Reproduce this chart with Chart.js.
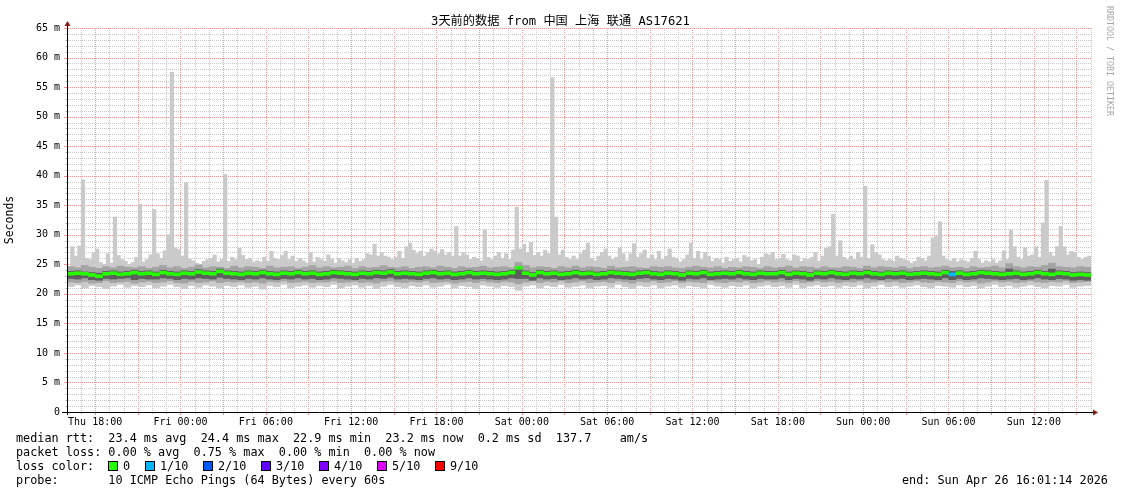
<!DOCTYPE html>
<html><head><meta charset="utf-8">
<script src="https://cdn.jsdelivr.net/npm/chart.js@4"></script>
<style>
html,body{margin:0;padding:0;background:#fff;}
#wrap{position:relative;width:1121px;height:494px;overflow:hidden;background:#fff;}
canvas{position:absolute;left:0;top:0;}
.t{position:absolute;font-family:'DejaVu Sans Mono',monospace;font-size:11.8px;white-space:pre;color:#000;line-height:14px;}
.box{position:absolute;width:8px;height:8px;border:1px solid #000;}
#title{position:absolute;left:0;top:14px;width:1121px;text-align:center;font-family:'DejaVu Sans Mono','Noto Sans CJK SC',monospace;font-size:12.2px;line-height:14px;color:#000;white-space:pre;}
#wm{position:absolute;left:1105px;top:6px;writing-mode:vertical-rl;font-family:'DejaVu Sans Mono',monospace;font-size:8.3px;color:#a8a8a8;white-space:pre;line-height:10px;}
</style></head><body>
<div id="wrap">
<canvas id="c" width="1121" height="494"></canvas>
<div id="title">3天前的数据 from 中国 上海 联通 AS17621</div>
<div id="wm">RRDTOOL / TOBI OETIKER</div>
<div class="t" style="left:16px;top:431px">median rtt:  23.4 ms avg  24.4 ms max  22.9 ms min  23.2 ms now  0.2 ms sd  137.7    am/s</div>
<div class="t" style="left:16px;top:445px">packet loss: 0.00 % avg  0.75 % max  0.00 % min  0.00 % now</div>
<div class="t" style="left:16px;top:459px">loss color:</div>
<div class="t" style="left:16px;top:473px">probe:       10 ICMP Echo Pings (64 Bytes) every 60s</div>
<div class="t" style="left:902px;top:473px">end: Sun Apr 26 16:01:14 2026</div>
</div>
<script>
// time axis: hours since Thu 00:00
const START_H = 16.0206;   // Thu 16:01:14
const END_H = 88.0206;     // Sun 16:01:14
const FINE_STEP_H = 0.25;
const COARSE_STEP_H = 0.5;

const xTickHours = [18,24,30,36,42,48,54,60,66,72,78,84];
const xTickLabels = ["Thu 18:00","Fri 00:00","Fri 06:00","Fri 12:00","Fri 18:00","Sat 00:00","Sat 06:00","Sat 12:00","Sat 18:00","Sun 00:00","Sun 06:00","Sun 12:00"];
const yTickValues = [0,5,10,15,20,25,30,35,40,45,50,55,60,65];
const yTickLabels = ["0","5 m","10 m","15 m","20 m","25 m","30 m","35 m","40 m","45 m","50 m","55 m","60 m","65 m"];

// max ping per 15-min bin (ms)
const maxRtt = [
24.2,28.0,26.4,28.1,39.3,26.0,25.8,26.9,27.6,25.3,
25.0,26.8,25.2,33.0,26.5,25.8,25.5,25.0,25.3,26.2,
35.2,25.4,25.8,26.6,34.3,26.8,26.0,27.3,30.0,57.5,
27.8,27.5,26.4,38.8,25.9,25.6,25.2,25.0,25.5,25.8,
26.0,26.6,25.4,25.8,40.2,25.5,26.2,25.8,27.7,26.5,
25.8,26.0,25.4,25.6,25.4,26.2,25.5,27.2,26.0,25.8,
26.5,27.2,25.8,26.4,25.5,26.0,25.6,25.2,27.0,25.4,
26.2,25.8,25.5,26.6,25.9,25.2,26.0,25.6,25.3,25.8,
25.2,26.0,25.5,25.8,26.8,26.6,28.4,26.4,27.0,26.4,
26.2,25.8,26.2,27.2,26.0,28.0,28.6,27.4,26.8,27.2,
26.4,27.0,27.6,27.2,26.8,27.5,26.6,27.0,26.4,31.4,
26.4,27.0,26.6,25.8,26.2,26.0,25.6,30.8,26.2,25.8,
26.4,27.0,26.0,26.8,25.8,27.4,34.7,27.6,28.4,27.0,
28.7,26.5,27.0,26.4,27.4,26.8,56.6,33.0,26.6,27.4,
26.2,25.8,26.4,25.8,26.8,27.4,28.6,26.0,25.6,26.4,
27.0,27.6,26.4,25.8,26.2,27.8,26.8,25.6,26.8,28.5,
26.2,26.8,27.4,26.0,26.6,25.8,27.2,25.8,26.4,27.6,
26.2,26.0,25.4,25.8,26.6,28.6,26.0,27.2,25.8,27.0,
26.4,25.5,26.0,25.8,25.2,26.2,25.5,25.8,26.0,25.4,
26.5,26.2,25.6,25.8,25.0,26.2,26.8,26.6,27.0,25.8,
26.0,26.7,25.8,25.6,26.6,26.4,25.5,26.0,25.8,26.2,
27.0,25.5,26.4,27.7,28.0,33.5,26.4,29.0,26.2,25.8,
26.4,25.8,27.0,26.2,38.2,26.0,28.3,27.0,26.6,25.8,
25.6,25.8,25.5,26.4,26.0,25.8,25.6,25.2,25.5,26.2,
26.0,25.6,26.4,29.5,29.7,32.2,26.4,25.8,25.6,26.0,
25.4,25.8,25.6,25.4,26.0,27.2,25.8,25.2,25.6,25.4,
25.8,25.2,25.6,27.3,25.8,30.8,28.0,26.2,25.8,27.8,
26.4,26.6,28.0,26.2,32.0,39.2,27.0,26.4,28.0,31.4,
28.0,26.6,27.2,27.0,26.2,25.8,26.2,26.4];

// min ping per 30-min bin
const minRtt = [
21.2,21.5,21.0,21.4,21.2,20.9,21.3,21.6,21.1,21.4,21.2,21.5,
21.0,21.3,21.6,21.2,20.9,21.4,21.1,21.5,21.3,21.0,21.4,21.2,
21.5,21.1,21.3,20.8,21.4,21.2,21.6,21.0,21.3,21.5,21.1,21.4,
21.2,21.6,21.0,21.3,21.5,21.1,21.4,20.9,21.3,21.6,21.2,21.0,
21.4,21.2,21.5,21.1,21.3,21.6,21.0,21.4,21.2,20.9,21.5,21.3,
21.1,21.4,21.2,20.6,21.3,21.5,21.0,21.4,21.2,21.6,21.1,21.3,
21.5,21.0,21.3,21.4,21.1,21.6,21.2,20.9,21.4,21.2,21.5,21.0,
21.3,21.5,21.1,21.4,21.2,21.0,21.6,21.3,21.1,21.4,21.2,21.5,
21.0,21.3,21.5,21.2,21.4,21.1,21.6,21.0,21.3,21.5,21.2,21.4,
21.1,21.4,21.2,21.5,21.0,21.3,21.6,21.2,21.4,21.1,21.3,21.5,
21.2,21.0,21.4,21.3,21.1,21.5,21.2,21.4,21.0,21.3,21.6,21.2,
21.4,21.1,21.3,21.5,21.2,21.0,21.4,21.3,21.6,21.1,21.3,21.4];

// 2nd lowest / 2nd highest ping per 30-min bin
const p2Low = [
22.0,21.9,22.1,21.8,21.9,22.2,21.9,22.0,22.1,21.8,22.0,22.1,
21.9,22.0,22.2,21.9,21.8,22.1,21.9,22.0,22.2,21.9,22.1,22.0,
22.1,21.9,22.0,21.8,22.1,22.0,22.2,21.9,22.0,22.1,21.9,22.0,
22.0,22.2,21.9,22.0,22.1,21.9,22.0,21.8,22.1,22.2,22.0,21.9,
22.1,22.0,22.2,21.9,22.0,22.1,21.8,22.0,22.1,21.9,22.2,22.0,
21.9,22.1,22.0,21.7,22.0,22.2,21.9,22.1,22.0,22.2,21.9,22.0,
22.2,21.9,22.0,22.1,21.9,22.2,22.0,21.8,22.1,22.0,22.2,21.9,
22.0,22.2,21.9,22.1,22.0,21.9,22.2,22.0,21.9,22.1,22.0,22.2,
21.9,22.0,22.2,22.0,22.1,21.9,22.2,21.9,22.0,22.2,22.0,22.1,
21.9,22.1,22.0,22.2,21.9,22.0,22.2,22.0,22.1,21.9,22.0,22.2,
22.0,21.9,22.1,22.0,21.9,22.2,22.0,22.1,21.8,22.0,22.2,22.0,
22.1,21.9,22.0,22.2,22.0,21.9,22.1,22.0,22.2,21.9,22.0,22.1];
const p2High = [
24.6,24.4,24.8,24.5,24.3,24.6,24.4,24.7,24.5,24.4,24.6,24.3,
24.5,24.8,24.4,24.6,24.3,24.5,24.9,24.4,24.6,24.5,24.3,24.7,
24.4,24.6,24.5,24.3,24.7,24.4,24.5,24.6,24.3,24.5,24.8,24.4,
24.6,24.4,24.5,24.7,24.3,24.6,24.4,24.5,24.8,24.5,24.4,24.6,
24.3,24.5,24.6,24.4,24.7,24.5,24.3,24.6,24.4,24.5,24.7,24.4,
24.5,24.6,24.4,25.3,24.8,24.4,24.6,24.5,24.3,24.6,24.4,24.7,
24.4,24.6,24.5,24.3,24.7,24.4,24.5,24.6,24.4,24.3,24.6,24.5,
24.6,24.4,24.3,24.5,24.7,24.5,24.4,24.6,24.3,24.5,24.4,24.6,
24.5,24.3,24.6,24.4,24.5,24.7,24.4,24.6,24.5,24.3,24.6,24.4,
24.4,24.6,24.5,24.3,24.7,24.4,24.6,24.5,24.4,24.6,24.3,24.5,
24.6,24.4,24.5,24.7,24.4,24.5,24.3,24.6,24.4,24.5,24.7,24.4,
25.1,24.6,24.4,24.6,24.5,24.8,25.2,24.6,24.5,24.4,24.6,24.5];

// 3rd lowest / 3rd highest ping per 30-min bin
const p3Low = [
22.6,22.5,22.7,22.4,22.3,22.6,22.5,22.6,22.7,22.4,22.6,22.5,
22.5,22.7,22.6,22.4,22.6,22.5,22.7,22.6,22.5,22.8,22.6,22.5,
22.4,22.6,22.5,22.7,22.5,22.4,22.6,22.5,22.7,22.5,22.6,22.4,
22.5,22.7,22.6,22.5,22.4,22.6,22.5,22.7,22.6,22.8,22.5,22.6,
22.5,22.4,22.6,22.7,22.5,22.6,22.4,22.5,22.7,22.5,22.6,22.5,
22.4,22.5,22.7,22.6,22.6,22.3,22.7,22.5,22.6,22.4,22.5,22.7,
22.5,22.6,22.4,22.5,22.7,22.6,22.5,22.4,22.6,22.7,22.5,22.4,
22.6,22.5,22.3,22.6,22.5,22.7,22.4,22.5,22.6,22.5,22.7,22.5,
22.4,22.6,22.5,22.5,22.7,22.4,22.6,22.5,22.3,22.6,22.5,22.7,
22.5,22.4,22.6,22.5,22.7,22.5,22.4,22.6,22.5,22.6,22.4,22.5,
22.6,22.5,22.4,22.7,22.4,22.6,22.4,22.5,22.7,22.6,22.5,22.4,
22.5,22.6,22.4,22.5,22.7,22.5,22.4,22.6,22.5,22.3,22.4,22.3];
const p3High = [
23.8,23.9,23.7,23.6,23.5,23.8,23.9,23.7,23.8,24.0,23.8,23.9,
23.7,24.0,23.8,23.7,23.9,23.8,24.1,23.9,23.8,24.2,23.9,23.8,
23.7,23.9,23.8,24.0,23.8,23.7,23.9,23.8,24.0,23.8,23.9,23.7,
23.8,24.0,23.9,23.8,23.7,23.9,23.8,24.0,23.9,24.1,23.8,23.9,
23.8,23.7,23.9,24.0,23.8,23.9,23.7,23.8,24.0,23.8,23.9,23.8,
23.7,23.8,24.0,24.3,23.9,23.6,24.0,23.8,23.9,23.7,23.8,24.0,
23.8,23.9,23.7,23.8,24.0,23.9,23.8,23.7,23.9,24.0,23.8,23.7,
23.9,23.8,23.6,23.9,23.8,24.0,23.7,23.8,23.9,23.8,24.0,23.8,
23.7,23.9,23.8,23.8,24.0,23.7,23.9,23.8,23.6,23.9,23.8,24.0,
23.8,23.7,23.9,23.8,24.0,23.8,23.7,23.9,23.8,23.9,23.7,23.8,
23.9,23.8,23.7,24.0,23.8,23.9,23.7,23.8,24.0,23.9,23.8,23.7,
24.2,23.9,23.7,23.8,24.0,23.8,24.2,23.9,23.8,23.6,23.7,23.6];

// median rtt per 30-min bin
const medianRtt = [
23.4,23.5,23.4,23.2,23.0,23.4,23.5,23.3,23.4,23.6,23.4,23.5,
23.3,23.6,23.4,23.3,23.5,23.4,23.7,23.5,23.4,23.8,23.5,23.4,
23.3,23.5,23.4,23.6,23.4,23.3,23.5,23.4,23.6,23.4,23.5,23.3,
23.4,23.6,23.5,23.4,23.3,23.5,23.4,23.6,23.5,23.7,23.4,23.5,
23.4,23.3,23.5,23.6,23.4,23.5,23.3,23.4,23.6,23.4,23.5,23.4,
23.3,23.4,23.6,24.4,23.5,23.2,23.6,23.4,23.5,23.3,23.4,23.6,
23.4,23.5,23.3,23.4,23.6,23.5,23.4,23.3,23.5,23.6,23.4,23.3,
23.5,23.4,23.2,23.5,23.4,23.6,23.3,23.4,23.5,23.4,23.6,23.4,
23.3,23.5,23.4,23.4,23.6,23.3,23.5,23.4,23.2,23.5,23.4,23.6,
23.4,23.3,23.5,23.4,23.6,23.4,23.3,23.5,23.4,23.5,23.3,23.4,
23.5,23.4,23.3,23.6,23.3,23.5,23.3,23.4,23.6,23.5,23.4,23.3,
23.4,23.5,23.3,23.4,23.6,23.4,23.3,23.5,23.4,23.2,23.3,23.2];

// packet loss per 30-min bin (tenths)
const lossTenths = [
0,0,0,0,0,0,0,0,0,0,0,0, 0,0,0,0,0,0,0,0,0,0,0,0,
0,0,0,0,0,0,0,0,0,0,0,0, 0,0,0,0,0,0,0,0,0,0,0,0,
0,0,0,0,0,0,0,0,0,0,0,0, 0,0,0,0,0,0,0,0,0,0,0,0,
0,0,0,0,0,0,0,0,0,0,0,0, 0,0,0,0,0,0,0,0,0,0,0,0,
0,0,0,0,0,0,0,0,0,0,0,0, 0,0,0,0,0,0,0,0,0,0,0,0,
0,0,0,0,1,0,0,0,0,0,0,0, 0,0,0,0,0,0,0,0,0,0,0,0];

const lossLegendLabels = ["0","1/10","2/10","3/10","4/10","5/10","9/10"];
const lossLegendTenths = [0,1,2,3,4,5,9];
const lossColors = {0:"#26ff00",1:"#00b8ff",2:"#0059ff",3:"#5e00ff",4:"#7e00ff",5:"#dd00ff",9:"#ff0000"};

// loss legend
(function(){
  const wrap = document.getElementById('wrap');
  const boxX = [108,145,203,261,319,377,435];
  lossLegendLabels.forEach((lab,i)=>{
    const b = document.createElement('div');
    b.className='box'; b.style.left=boxX[i]+'px'; b.style.top='461px';
    b.style.background=lossColors[lossLegendTenths[i]];
    wrap.appendChild(b);
    const t = document.createElement('div');
    t.className='t'; t.style.left=(boxX[i]+15)+'px'; t.style.top='459px'; t.textContent=lab;
    wrap.appendChild(t);
  });
})();

const fineX = maxRtt.map((_, i) => START_H + (i + 0.5) * FINE_STEP_H);
const coarseX = medianRtt.map((_, j) => START_H + (j + 0.5) * COARSE_STEP_H);

const outerData = maxRtt.map((v, i) => ({x: fineX[i], y: [minRtt[Math.floor(i / 2)], v]}));
const midData = p2High.map((v, j) => ({x: coarseX[j], y: [p2Low[j], v]}));
const darkData = p3High.map((v, j) => ({x: coarseX[j], y: [p3Low[j], v]}));
const MEDIAN_HALF = 0.25;
const medianData = medianRtt.map((v, j) => ({x: coarseX[j], y: [v - MEDIAN_HALF, v + MEDIAN_HALF]}));

const mono = "'DejaVu Sans Mono', monospace";
const RED = 'rgb(244,150,150)';
const GRAY = 'rgb(200,200,200)';

// dotted grid, drawn under the smoke
const gridPlugin = {
  id: 'dotgrid',
  beforeDatasetsDraw(chart) {
    const {ctx, chartArea: a, scales} = chart;
    const xs = scales.x, ys = scales.y;
    const top = Math.round(a.top), bot = Math.round(a.bottom), L = Math.round(a.left), R = Math.round(a.right);
    ctx.save();
    for (let h = Math.ceil(START_H); h <= END_H; h++) {
      const px = Math.round(xs.getPixelForValue(h));
      const major = h % 3 === 0;
      ctx.fillStyle = major ? RED : GRAY;
      for (let py = top; py < bot; py += 2) ctx.fillRect(px, py, 1, 1);
      ctx.fillRect(px, bot, 1, major ? 3 : 2);
    }
    for (let v = 1; v <= 65; v++) {
      const py = Math.round(ys.getPixelForValue(v));
      const major = v % 5 === 0;
      ctx.fillStyle = major ? RED : GRAY;
      for (let px = L + 1; px < R; px += 2) ctx.fillRect(px, py, 1, 1);
      ctx.fillRect(L - (major ? 3 : 2), py, major ? 3 : 2, 1);
    }
    ctx.restore();
  }
};

const axesPlugin = {
  id: 'axes',
  afterDraw(chart) {
    const {ctx, chartArea: a} = chart;
    ctx.save();
    ctx.strokeStyle = '#000';
    ctx.lineWidth = 1;
    const lx = Math.round(a.left) + 0.5, by = Math.round(a.bottom) + 0.5;
    ctx.beginPath();
    ctx.moveTo(lx, a.bottom + 3);
    ctx.lineTo(lx, a.top - 4);
    ctx.moveTo(a.left - 5, by);
    ctx.lineTo(a.right + 2, by);
    ctx.stroke();
    ctx.fillStyle = '#8b1a1a';
    const ty = a.top - 7;
    ctx.beginPath(); ctx.moveTo(lx - 3, ty + 5); ctx.lineTo(lx + 3, ty + 5); ctx.lineTo(lx, ty); ctx.closePath(); ctx.fill();
    const rx = a.right + 2;
    ctx.beginPath(); ctx.moveTo(rx, by - 3); ctx.lineTo(rx, by + 3); ctx.lineTo(rx + 5, by); ctx.closePath(); ctx.fill();
    ctx.restore();
  }
};

new Chart(document.getElementById('c'), {
  type: 'bar',
  data: {
    datasets: [
      {label: 'median', data: medianData, xAxisID: 'xc', order: 1, grouped: false,
       backgroundColor: ctx => lossColors[lossTenths[ctx.dataIndex]] || '#26ff00',
       barPercentage: 1, categoryPercentage: 1, borderWidth: 0},
      {label: 'p3', data: darkData, xAxisID: 'xc', order: 2, grouped: false,
       backgroundColor: '#5e5e5e', barPercentage: 1, categoryPercentage: 1, borderWidth: 0},
      {label: 'p2', data: midData, xAxisID: 'xc', order: 3, grouped: false,
       backgroundColor: '#a4a4a4', barPercentage: 1, categoryPercentage: 1, borderWidth: 0},
      {label: 'outer', data: outerData, xAxisID: 'x', order: 4, grouped: false,
       backgroundColor: '#cacaca', barPercentage: 1, categoryPercentage: 1, borderWidth: 0}
    ]
  },
  options: {
    responsive: false,
    animation: false,
    events: [],
    layout: {padding: {left: 0, right: 30, top: 28, bottom: 62}},
    plugins: {legend: {display: false}, tooltip: {enabled: false}, title: {display: false}},
    scales: {
      x: {
        type: 'linear', min: START_H, max: END_H, offset: false,
        afterBuildTicks: s => { s.ticks = xTickHours.map(h => ({value: h})); },
        afterFit: s => { s.height = 20; },
        grid: {display: false, drawTicks: true, tickLength: 2, offset: false},
        border: {display: false},
        ticks: {autoSkip: false, maxRotation: 0, minRotation: 0, padding: 2, color: '#000',
          font: {family: mono, size: 10},
          callback: v => { const k = xTickHours.indexOf(v); return k >= 0 ? xTickLabels[k] : ''; }}
      },
      xc: {type: 'linear', min: START_H, max: END_H, offset: false, display: false, grid: {offset: false}},
      y: {
        type: 'linear', min: 0, max: 65,
        afterBuildTicks: s => { s.ticks = yTickValues.map(v => ({value: v})); },
        afterFit: s => { s.width = 67; },
        grid: {display: false, drawTicks: true, tickLength: 3},
        border: {display: false},
        title: {display: true, text: 'Seconds', color: '#000', font: {family: mono, size: 11.5}, padding: {top: 3, bottom: 0}},
        ticks: {autoSkip: false, padding: 4, color: '#000', font: {family: mono, size: 10},
          callback: v => { const k = yTickValues.indexOf(v); return k >= 0 ? yTickLabels[k] : ''; }}
      }
    }
  },
  plugins: [gridPlugin, axesPlugin]
});
</script>
</body></html>
